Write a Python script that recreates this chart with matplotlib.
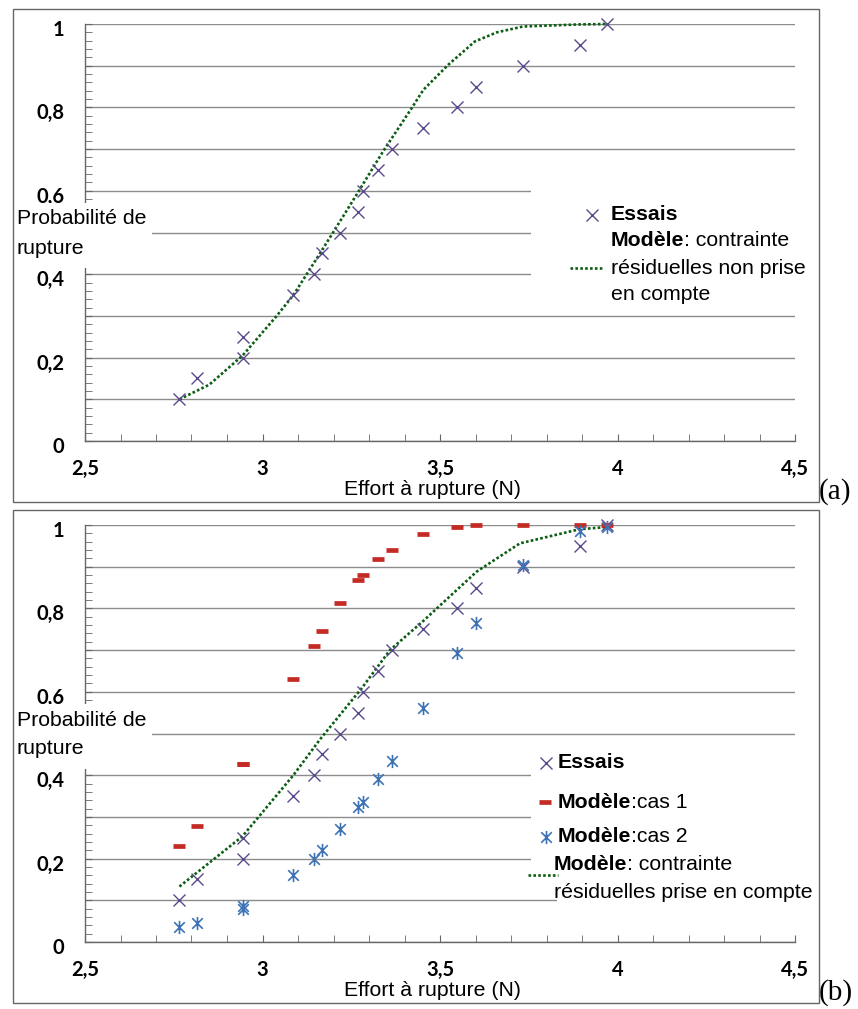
import matplotlib
matplotlib.use('Agg')
import matplotlib.pyplot as plt
from matplotlib.lines import Line2D
from matplotlib.patches import Rectangle
from matplotlib.path import Path
from matplotlib.text import Annotation
from matplotlib.ticker import MultipleLocator
from matplotlib.transforms import ScaledTranslation

plt.rcParams['font.family'] = ['Liberation Sans', 'DejaVu Sans']

# ---- data ----
essais_x = [2.766, 2.816, 2.944, 2.946, 3.087, 3.145, 3.168, 3.218, 3.270, 3.284,
            3.326, 3.366, 3.453, 3.549, 3.601, 3.735, 3.894, 3.971]
essais_y = [0.10, 0.15, 0.20, 0.25, 0.35, 0.40, 0.45, 0.50, 0.55, 0.60,
            0.65, 0.70, 0.75, 0.80, 0.85, 0.90, 0.95, 1.00]

cas1_y = [0.230, 0.278, 0.427, 0.427, 0.631, 0.711, 0.746, 0.812, 0.868, 0.879,
          0.918, 0.940, 0.979, 0.996, 0.999, 1.000, 1.000, 1.000]
cas2_y = [0.037, 0.046, 0.080, 0.087, 0.161, 0.200, 0.221, 0.270, 0.324, 0.335,
          0.390, 0.433, 0.560, 0.694, 0.766, 0.905, 0.986, 0.995]

# model without residual stresses (a)
model_a_x = [2.766, 2.85, 2.944, 3.04, 3.087, 3.162, 3.25, 3.34, 3.42, 3.453,
             3.523, 3.598, 3.66, 3.734, 3.894, 3.971]
model_a_y = [0.10, 0.135, 0.205, 0.30, 0.35, 0.45, 0.57, 0.695, 0.798, 0.842,
             0.902, 0.958, 0.980, 0.994, 0.999, 1.0]

# model with residual stresses (b)
model_b_x = [2.766, 2.943, 3.087, 3.163, 3.279, 3.359, 3.453, 3.547, 3.603,
             3.725, 3.894, 3.970]
model_b_y = [0.133, 0.253, 0.400, 0.487, 0.608, 0.700, 0.770, 0.844, 0.888,
             0.956, 0.990, 0.995]

xtick_vals = [2.5, 3, 3.5, 4, 4.5]
xtick_labels = ['2,5', '3', '3,5', '4', '4,5']
ytick_vals = [0, 0.1, 0.2, 0.3, 0.4, 0.5, 0.6, 0.7, 0.8, 0.9, 1.0]
ytick_labels = ['0', '', '0,2', '', '0,4', '', '0,6', '', '0,8', '', '1']

W, H = 858, 1009
PURPLE = '#5b4a8b'
RED = '#c42b24'
BLUE = '#3d72b4'
GREEN = '#0b5e12'
AXC = '#666666'
FS = 15.3
DOT = dict(color=GREEN, lw=1.9, linestyle=(0, (1, 0.85)), dash_capstyle='butt')

ast_marker = Path([(0, -1), (0, 1), (-0.8, -0.8), (0.8, 0.8), (-0.8, 0.8), (0.8, -0.8)],
                  [Path.MOVETO, Path.LINETO] * 3)


def fx(px):
    return px / W


def fy(py):
    return 1 - py / H


fig = plt.figure(figsize=(W / 100, H / 100), dpi=100)


def make_axes(off):
    ax = fig.add_axes([fx(85), fy(441 + off), fx(795) - fx(85), 417 / H])
    ax.set_xlim(2.5, 4.5)
    ax.set_ylim(0, 1)
    for s in ['top', 'right']:
        ax.spines[s].set_visible(False)
    for s in ['left', 'bottom']:
        ax.spines[s].set_color(AXC)
        ax.spines[s].set_linewidth(1.0)
    ax.set_xticks(xtick_vals, xtick_labels, fontweight='bold', fontfamily='Lato', fontsize=14.5)
    ax.set_yticks(ytick_vals, ytick_labels, fontweight='bold', fontfamily='Lato', fontsize=14.5)
    ax.xaxis.set_minor_locator(MultipleLocator(0.1))
    ax.yaxis.set_minor_locator(MultipleLocator(0.02))
    ax.tick_params(axis='x', which='both', direction='in', length=5, color=AXC, pad=13)
    ax.tick_params(axis='y', which='both', direction='in', length=5, color=AXC, pad=15)
    shift = ScaledTranslation(0, -0.04, fig.dpi_scale_trans)
    for lbl in ax.get_yticklabels():
        lbl.set_transform(lbl.get_transform() + shift)
    ax.set_axisbelow(True)
    ax.yaxis.grid(True, color='#8c8c8c', lw=1.0)
    ax.patch.set_alpha(0)
    return ax


def panel_frame(off, tag):
    fig.add_artist(Rectangle((fx(13), fy(502 + off)), fx(819) - fx(13), (493) / H,
                             transform=fig.transFigure, fill=False, edgecolor=AXC, lw=1.0, zorder=5))
    # y label with white background hiding grid/spine
    fig.add_artist(Rectangle((fx(15), fy(268 + off)), fx(152) - fx(15), 65 / H,
                             transform=fig.transFigure, facecolor='white', edgecolor='none', zorder=1))
    fig.text(fx(17), fy(219 + off), 'Probabilité de', fontsize=FS, va='center', ha='left', zorder=3)
    fig.text(fx(17), fy(248 + off), 'rupture', fontsize=FS, va='center', ha='left', zorder=3)
    fig.text(fx(433), fy(489 + off), 'Effort à rupture (N)', fontsize=FS, va='center', ha='center', zorder=3)
    fig.text(fx(819), fy(492 + off), tag, fontsize=21, family='Liberation Serif', va='center', ha='left')


def mixed(x, y, bold, rest):
    t1 = fig.text(fx(x), fy(y), bold, fontsize=FS, fontweight='bold', va='center', ha='left', zorder=3)
    fig.add_artist(Annotation(rest, xy=(1, 0.5), xycoords=t1, fontsize=FS, va='center', ha='left', zorder=3))


def handle(x, y, **kw):
    fig.add_artist(Line2D([fx(x)], [fy(y)], transform=fig.transFigure, linestyle='none', zorder=3, **kw))


def dotted(ax, xs, ys):
    ax.plot(xs, ys, zorder=3, clip_on=False, **DOT)


essais_kw = dict(marker='x', color=PURPLE, ms=8, mew=1.0)
cas1_kw = dict(marker='_', color=RED, ms=9, mew=3.4)
cas2_kw = dict(marker=ast_marker, color=BLUE, mfc='none', ms=9.5, mew=1.2)

# ---------------- panel (a) ----------------
ax1 = make_axes(0)
panel_frame(0, '(a)')
dotted(ax1, model_a_x, model_a_y)
ax1.plot(essais_x, essais_y, linestyle='none', clip_on=False, zorder=4, **essais_kw)

fig.add_artist(Rectangle((fx(531), fy(300)), fx(800) - fx(531), 130 / H,
                         transform=fig.transFigure, facecolor='white', edgecolor='none', zorder=1))
handle(592, 215, **essais_kw)
fig.text(fx(611), fy(215), 'Essais', fontsize=FS, fontweight='bold', va='center', ha='left', zorder=3)
mixed(611, 241, 'Modèle', ': contrainte')
fig.add_artist(Line2D([fx(570), fx(602)], [fy(268), fy(268)], transform=fig.transFigure, zorder=3, **DOT))
fig.text(fx(611), fy(268), 'résiduelles non prise', fontsize=FS, va='center', ha='left', zorder=3)
fig.text(fx(611), fy(294), 'en compte', fontsize=FS, va='center', ha='left', zorder=3)

# ---------------- panel (b) ----------------
OFF = 501
ax2 = make_axes(OFF)
panel_frame(OFF, '(b)')
dotted(ax2, model_b_x, model_b_y)
ax2.plot(essais_x, essais_y, linestyle='none', clip_on=False, zorder=4, **essais_kw)
ax2.plot(essais_x, cas1_y, linestyle='none', clip_on=False, zorder=4, **cas1_kw)
ax2.plot(essais_x, cas2_y, linestyle='none', clip_on=False, zorder=4, **cas2_kw)

fig.add_artist(Rectangle((fx(531), fy(878)), fx(800) - fx(531), 126 / H,
                         transform=fig.transFigure, facecolor='white', edgecolor='none', zorder=1))
fig.add_artist(Rectangle((fx(557), fy(906)), fx(817) - fx(557), 28 / H,
                         transform=fig.transFigure, facecolor='white', edgecolor='none', zorder=1))
handle(546, 763, **essais_kw)
fig.text(fx(558), fy(763), 'Essais', fontsize=FS, fontweight='bold', va='center', ha='left', zorder=3)
handle(545, 802, **cas1_kw)
mixed(558, 802, 'Modèle', ':cas 1')
handle(546, 837, **cas2_kw)
mixed(558, 837, 'Modèle', ':cas 2')
mixed(554, 865, 'Modèle', ': contrainte')
fig.add_artist(Line2D([fx(528), fx(558)], [fy(875), fy(875)], transform=fig.transFigure, zorder=3, **DOT))
fig.text(fx(554), fy(892), 'résiduelles prise en compte', fontsize=FS, va='center', ha='left', zorder=3)

fig.savefig('out.png', dpi=100)
